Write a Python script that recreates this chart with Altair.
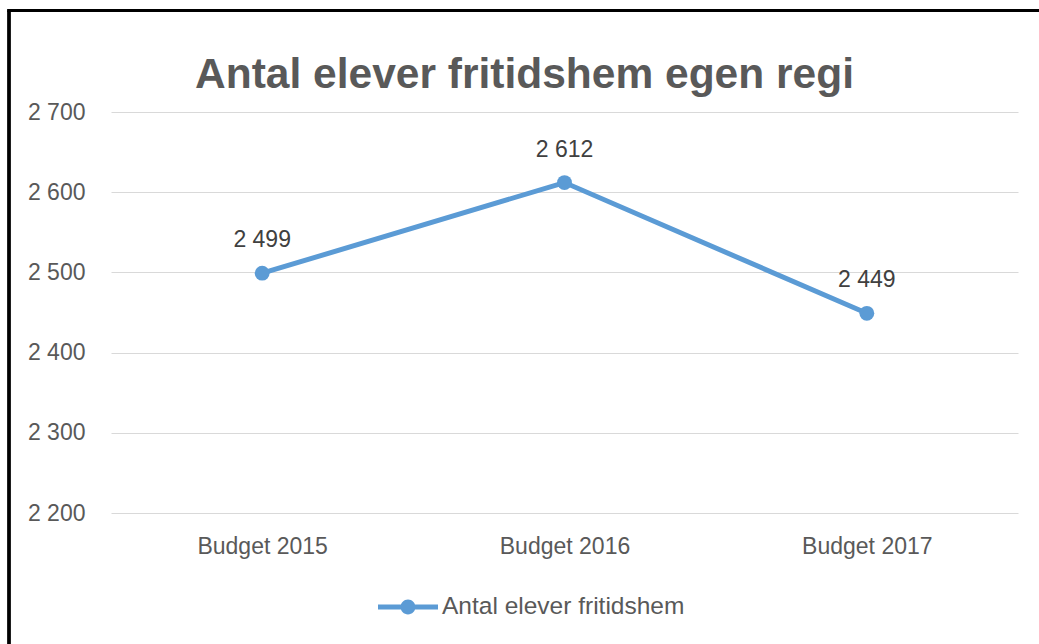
import altair as alt
import pandas as pd

categories = ["Budget 2015", "Budget 2016", "Budget 2017"]
values = [2499, 2612, 2449]
series_name = "Antal elever fritidshem"
title_text = "Antal elever fritidshem egen regi"
y_ticks = [2200, 2300, 2400, 2500, 2600, 2700]

df = pd.DataFrame({"cat": categories, "value": values, "series": [series_name] * len(values)})

BLUE = "#5B9BD5"
GRAY = "#595959"
FONT = "Liberation Sans"

color = alt.Color(
    "series:N",
    scale=alt.Scale(domain=[series_name], range=[BLUE]),
    legend=alt.Legend(
        title=None,
        orient="none",
        legendX=277,
        legendY=475,
        symbolType="M-1.5,-0.12H1.5V0.12H-1.5Z M0.37,0A0.37,0.37 0 1,1 -0.37,0A0.37,0.37 0 1,1 0.37,0Z",
        symbolSize=1600,
        symbolFillColor=BLUE,
        symbolStrokeWidth=0,
        labelFontSize=24.5,
        labelColor=GRAY,
        labelFont=FONT,
        labelOffset=14,
        labelLimit=500,
    ),
)

x = alt.X(
    "cat:N",
    sort=categories,
    title=None,
    scale=alt.Scale(paddingInner=1, paddingOuter=0.5),
    axis=alt.Axis(labelAngle=0, ticks=False, domain=False, grid=False,
                  labelFontSize=23, labelColor=GRAY, labelFont=FONT, labelPadding=22),
)
y = alt.Y(
    "value:Q",
    title=None,
    scale=alt.Scale(domain=[2200, 2700], nice=False, zero=False),
    axis=alt.Axis(values=y_ticks, ticks=False, domain=False, grid=True,
                  gridColor="#D9D9D9", gridWidth=1,
                  labelFontSize=23, labelColor=GRAY, labelFont=FONT, labelPadding=26,
                  labelExpr="replace(format(datum.value, ','), ',', ' ')"),
)

base = alt.Chart(df)
line = base.mark_line(strokeWidth=5).encode(x=x, y=y, color=color)
pts = base.mark_point(filled=True, size=220, opacity=1).encode(x=x, y=y, color=color)
labels = base.transform_calculate(
    lab="replace(format(datum.value, ','), ',', ' ')"
).mark_text(dy=-33, fontSize=23, color="#404040", font=FONT).encode(x=x, y=y, text="lab:N")

frame_left = alt.Chart(df).mark_rule(color="black", strokeWidth=3).encode(
    x=alt.value(-102), y=alt.value(-101.5), y2=alt.value(560))
frame_top = alt.Chart(df).mark_rule(color="black", strokeWidth=3).encode(
    x=alt.value(-103.5), x2=alt.value(960), y=alt.value(-101.5))

chart = alt.layer(line, pts, labels, frame_left, frame_top).properties(
    width=907,
    height=401,
    title=alt.Title(title_text, fontSize=42.5, fontWeight="bold", color=GRAY, font=FONT,
                    anchor="middle", dx=-40, offset=-87),
    padding={"left": 111, "top": 112, "right": 21, "bottom": 131},
    autosize=alt.AutoSizeParams(type="none"),
    background="white",
).configure_view(stroke=None)

chart.save("out.html", embed_options={"renderer": "svg", "actions": False})
